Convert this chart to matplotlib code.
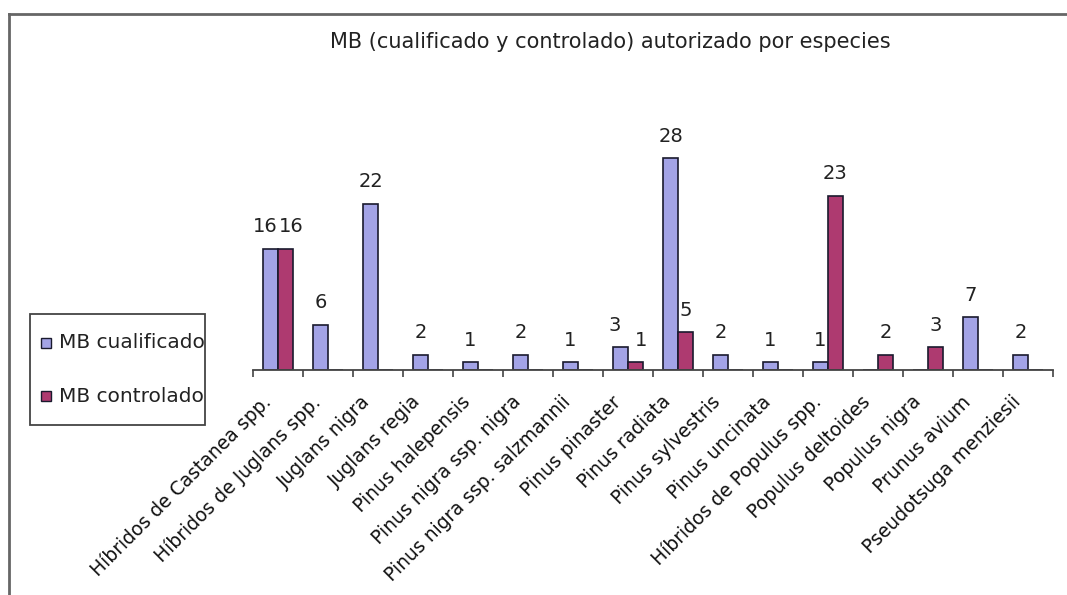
import matplotlib
matplotlib.use("Agg")
import matplotlib.pyplot as plt
from matplotlib.patches import Rectangle
from matplotlib.lines import Line2D
import matplotlib.transforms as mtransforms
import numpy as np

categories = [
    "Híbridos de Castanea spp.", "Híbridos de Juglans spp.", "Juglans nigra",
    "Juglans regia", "Pinus halepensis", "Pinus nigra ssp. nigra",
    "Pinus nigra ssp. salzmannii", "Pinus pinaster", "Pinus radiata",
    "Pinus sylvestris", "Pinus uncinata", "Híbridos de Populus spp.",
    "Populus deltoides", "Populus nigra", "Prunus avium", "Pseudotsuga menziesii",
]
cualificado = [16, 6, 22, 2, 1, 2, 1, 3, 28, 2, 1, 1, 0, 0, 7, 2]
controlado = [16, 0, 0, 0, 0, 0, 0, 1, 5, 0, 0, 23, 2, 3, 0, 0]
series_names = ["MB cualificado", "MB controlado"]
title = "MB (cualificado y controlado) autorizado por especies"

W, H = 1067, 595
fig = plt.figure(figsize=(W / 100, H / 100), dpi=100)
fig.patch.set_facecolor("white")

def fx(px):
    return px / W

def fy(py):
    return 1 - py / H

ax = fig.add_axes([fx(253), fy(370), fx(1053) - fx(253), (370 - 143) / H])
x = np.arange(len(categories))
bw = 0.3
c1, c2 = "#A3A3E6", "#AE3A70"
b1 = ax.bar(x - bw / 2, cualificado, bw, color=c1, edgecolor="#1a1a2e", linewidth=1.2)
b2 = ax.bar(x + bw / 2, controlado, bw, color=c2, edgecolor="#1a1a2e", linewidth=1.2)
ax.set_xlim(-0.5, len(categories) - 0.5)
ax.set_ylim(0, 30)

for k, (bars, vals, other) in enumerate(((b1, cualificado, controlado),
                                         (b2, controlado, cualificado))):
    for rect, v, o in zip(bars, vals, other):
        if v > 0:
            dx = 0
            if o > 0 and abs(v - o) < 3:
                dx = -4 if k == 0 else 4
            ax.annotate(str(v), (rect.get_x() + rect.get_width() / 2, v),
                        xytext=(dx, 9), textcoords="offset points",
                        ha="center", va="bottom", fontsize=14, color="#222222",
                        annotation_clip=False)

for s in ("left", "top", "right"):
    ax.spines[s].set_visible(False)
ax.spines["bottom"].set_color("#444444")
ax.spines["bottom"].set_linewidth(1.3)
ax.set_yticks([])
ax.set_xticks(np.arange(-0.5, len(categories)), minor=True)
ax.set_xticks(x)
ax.set_xticklabels(categories, rotation=45, ha="right", rotation_mode="anchor",
                   fontsize=13.5, color="#111111")
ax.tick_params(axis="x", which="major", length=0, pad=16)
ax.tick_params(axis="x", which="minor", length=5, width=1.2, color="#444444", direction="out")
offset = mtransforms.ScaledTranslation(-17 / 100, 0, fig.dpi_scale_trans)
for lab in ax.get_xticklabels():
    lab.set_transform(lab.get_transform() + offset)

fig.text(fx(610), fy(42), title, ha="center", va="center", fontsize=15, color="#222222")

# outer frame (top and left edges)
fig.add_artist(Line2D([fx(9), 1.0], [fy(14), fy(14)], color="#666666", lw=2))
fig.add_artist(Line2D([fx(9), fx(9)], [fy(14), 0.0], color="#666666", lw=2))

# legend box
lg = Rectangle((fx(30), fy(425)), fx(205) - fx(30), (425 - 314) / H,
               transform=fig.transFigure, facecolor="white", edgecolor="#444444", lw=1.3)
fig.add_artist(lg)
for name, col, py in ((series_names[0], c1, 343), (series_names[1], c2, 396)):
    fig.add_artist(Rectangle((fx(41), fy(py + 5)), 10 / W, 10 / H,
                             transform=fig.transFigure, facecolor=col,
                             edgecolor="#1a1a2e", lw=1))
    t = fig.text(fx(59), fy(py), name, ha="left", va="center", fontsize=14.5, color="#222222")
    t.set_clip_path(lg)

fig.savefig("out.png", dpi=100)
